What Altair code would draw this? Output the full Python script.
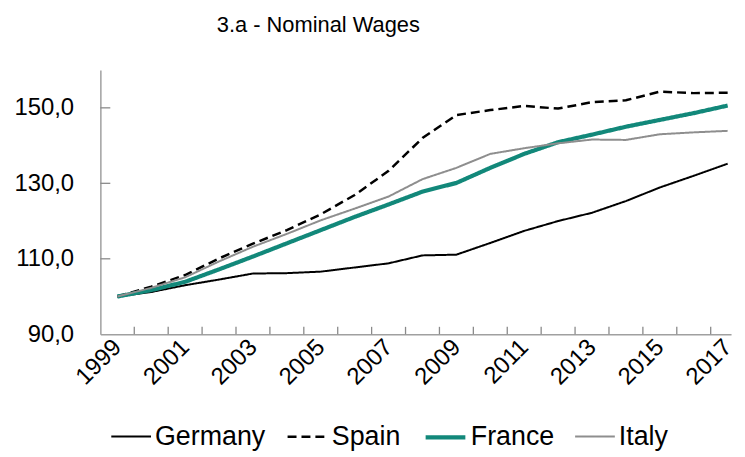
import altair as alt
import pandas as pd

years = list(range(1999, 2018))
countries = ["Germany", "Spain", "France", "Italy"]

germany = [100.0, 101.2, 103.0, 104.5, 106.1, 106.2, 106.6, 107.7, 108.8, 110.9,
           111.1, 114.2, 117.4, 120.0, 122.2, 125.3, 128.9, 132.0, 135.2]
spain = [100.0, 102.6, 105.7, 110.1, 114.0, 117.6, 121.8, 126.9, 133.3, 142.0,
         148.1, 149.4, 150.5, 149.8, 151.5, 152.0, 154.3, 153.9, 154.0]
france = [100.0, 101.7, 103.9, 107.2, 110.6, 114.1, 117.6, 121.1, 124.4, 127.8,
          130.1, 134.1, 137.8, 140.9, 142.9, 145.0, 146.8, 148.6, 150.6]
italy = [100.0, 102.3, 105.1, 109.3, 113.2, 116.6, 120.2, 123.3, 126.5, 131.1,
         134.1, 137.8, 139.3, 140.6, 141.6, 141.5, 143.0, 143.5, 143.9]

x_labels = years[::2]
y_labels = [90, 110, 130, 150]
x_tick_pos = [y + 0.5 for y in years[:-1]]
y_tick_pos = [110, 130, 150]

rows = []
for c, vals in zip(countries, [germany, spain, france, italy]):
    for yr, v in zip(years, vals):
        rows.append({"year": yr, "country": c, "value": v})
df = pd.DataFrame(rows)

FONT = "Liberation Sans"
AXIS_COLOR = "#a0a0a0"
W, H = 635, 266

xscale = alt.Scale(domain=[1998.5, 2017.1], nice=False, zero=False)
yscale = alt.Scale(domain=[90, 160], nice=False, zero=False)

xaxis = alt.Axis(
    values=x_labels, format="d", labelAngle=-45, labelAlign="right",
    labelBaseline="middle", labelPadding=9, ticks=False, grid=False,
    domainColor=AXIS_COLOR, domainWidth=1.5, labelFontSize=24, labelFont=FONT,
    labelColor="black", title=None, labelOverlap=False)
yaxis = alt.Axis(
    values=y_labels, labelExpr="replace(format(datum.value, '.1f'), '.', ',')",
    ticks=False, grid=False, labelPadding=27, domainColor=AXIS_COLOR,
    domainWidth=1.5, labelFontSize=24, labelFont=FONT, labelColor="black",
    title=None)

legend = alt.Legend(
    title=None, orient="none", legendX=10, legendY=347, direction="horizontal",
    symbolType="stroke", symbolSize=1600, labelFont=FONT, labelFontSize=27,
    labelColor="black", columnPadding=16, labelOffset=3, padding=0, labelLimit=300,
)

lines = alt.Chart(df).mark_line().encode(
    x=alt.X("year:Q", scale=xscale, axis=xaxis),
    y=alt.Y("value:Q", scale=yscale, axis=yaxis),
    color=alt.Color("country:N", sort=countries, scale=alt.Scale(
        domain=countries, range=["#000000", "#000000", "#12887a", "#8e8e8e"]),
        legend=legend),
    strokeDash=alt.StrokeDash("country:N", sort=countries, scale=alt.Scale(
        domain=countries, range=[[1, 0], [9, 5], [1, 0], [1, 0]]), legend=legend),
    strokeWidth=alt.StrokeWidth("country:N", sort=countries, scale=alt.Scale(
        type="ordinal", domain=countries, range=[2, 2.5, 4.2, 2]), legend=legend),
)

xt = pd.DataFrame({"t": x_tick_pos})
yt = pd.DataFrame({"t": y_tick_pos})

x_ticks = alt.Chart(xt).mark_rule(color="#8a8a8a", strokeWidth=1.3).encode(
    x=alt.X("t:Q", scale=xscale, axis=xaxis),
    y=alt.value(H),
    y2=alt.value(H - 7.5),
)
y_ticks = alt.Chart(yt).mark_rule(color="#8a8a8a", strokeWidth=1.3).encode(
    y=alt.Y("t:Q", scale=yscale, axis=yaxis),
    x=alt.value(0),
    x2=alt.value(10),
)

chart = alt.layer(lines, x_ticks, y_ticks).properties(
    width=W, height=H,
    padding={"left": 5, "top": 5, "right": 0, "bottom": 0},
    title=alt.TitleParams("3.a - Nominal Wages", font=FONT, fontSize=22,
                          fontWeight="normal", color="black", anchor="middle",
                          dx=-98, offset=33),
).configure_view(stroke=None)

chart.save("out.html", embed_options={"renderer": "svg", "actions": False})
